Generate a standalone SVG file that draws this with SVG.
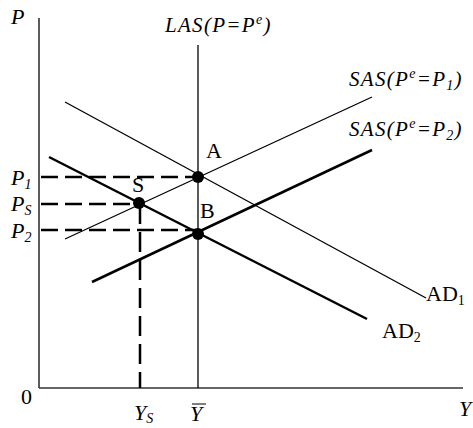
<svg xmlns="http://www.w3.org/2000/svg" width="473" height="428" viewBox="0 0 473 428">
<style>
.ax{stroke:#333;stroke-width:1.6;fill:none}
.thin{stroke:#000;stroke-width:1.3;fill:none}
.thick{stroke:#000;stroke-width:2.5;fill:none}
.dash{stroke:#000;stroke-width:2.5;fill:none;stroke-dasharray:17 7}
.t{font-family:"Liberation Serif","Times New Roman",serif;font-size:22px;fill:#000}
.lab{letter-spacing:1.3px;font-size:21px}
.i{font-style:italic}
.sub{font-size:14px}
.dot{fill:#000}
</style>
<rect width="473" height="428" fill="#fff"/>
<g id="axes">
<line class="ax" x1="39" y1="18" x2="39" y2="388"/>
<line class="ax" x1="39" y1="388" x2="463" y2="388"/>
<text class="t i" x="11" y="24">P</text>
<text class="t i" x="459" y="416">Y</text>
<text class="t" x="21" y="404">0</text>
</g>
<g id="connectors">
<line class="thin" x1="198" y1="45" x2="198" y2="388"/>
<line class="thin" x1="65" y1="239" x2="372" y2="97"/>
<line class="thick" x1="92" y1="282" x2="372" y2="150"/>
<line class="thin" x1="65" y1="102" x2="426" y2="298"/>
<line class="thick" x1="49" y1="157" x2="367" y2="319"/>
<line class="dash" x1="41" y1="177" x2="198" y2="177"/>
<line class="dash" x1="41" y1="204" x2="139" y2="204"/>
<line class="dash" x1="41" y1="230" x2="198" y2="230"/>
<line class="dash" x1="140" y1="204" x2="140" y2="388" style="stroke-dasharray:20 8"/>
</g>
<g id="LAS"><text class="t i lab" x="165" y="32">LAS(P=P<tspan class="sub" dy="-8">e</tspan><tspan dy="8">)</tspan></text></g>
<g id="SAS1"><text class="t i lab" x="349" y="86">SAS(P<tspan class="sub" dy="-8">e</tspan><tspan dy="8">=P</tspan><tspan class="sub" dy="4">1</tspan><tspan dy="-4">)</tspan></text></g>
<g id="SAS2"><text class="t i lab" x="349" y="136">SAS(P<tspan class="sub" dy="-8">e</tspan><tspan dy="8">=P</tspan><tspan class="sub" dy="4">2</tspan><tspan dy="-4">)</tspan></text></g>
<g id="AD1"><text class="t" x="426" y="301">AD<tspan class="sub" dy="4">1</tspan></text></g>
<g id="AD2"><text class="t" x="382" y="338">AD<tspan class="sub" dy="4">2</tspan></text></g>
<g id="A"><circle class="dot" cx="198" cy="177" r="6"/><text class="t" x="206" y="158">A</text></g>
<g id="S"><circle class="dot" cx="139" cy="203" r="6"/><text class="t" x="132" y="192">S</text></g>
<g id="B"><circle class="dot" cx="198" cy="234" r="6"/><text class="t" x="200" y="218">B</text></g>
<g id="P1"><text class="t i" x="11" y="185">P<tspan class="sub" dy="4">1</tspan></text></g>
<g id="PS"><text class="t i" x="11" y="211">P<tspan class="sub" dy="4">S</tspan></text></g>
<g id="P2"><text class="t i" x="11" y="238">P<tspan class="sub" dy="4">2</tspan></text></g>
<g id="YS"><text class="t i" x="134" y="420">Y<tspan class="sub" dy="3">S</tspan></text></g>
<g id="Ybar"><text class="t i" x="190" y="421">Y</text><line x1="192" y1="404" x2="206" y2="404" stroke="#000" stroke-width="1"/></g>
</svg>
